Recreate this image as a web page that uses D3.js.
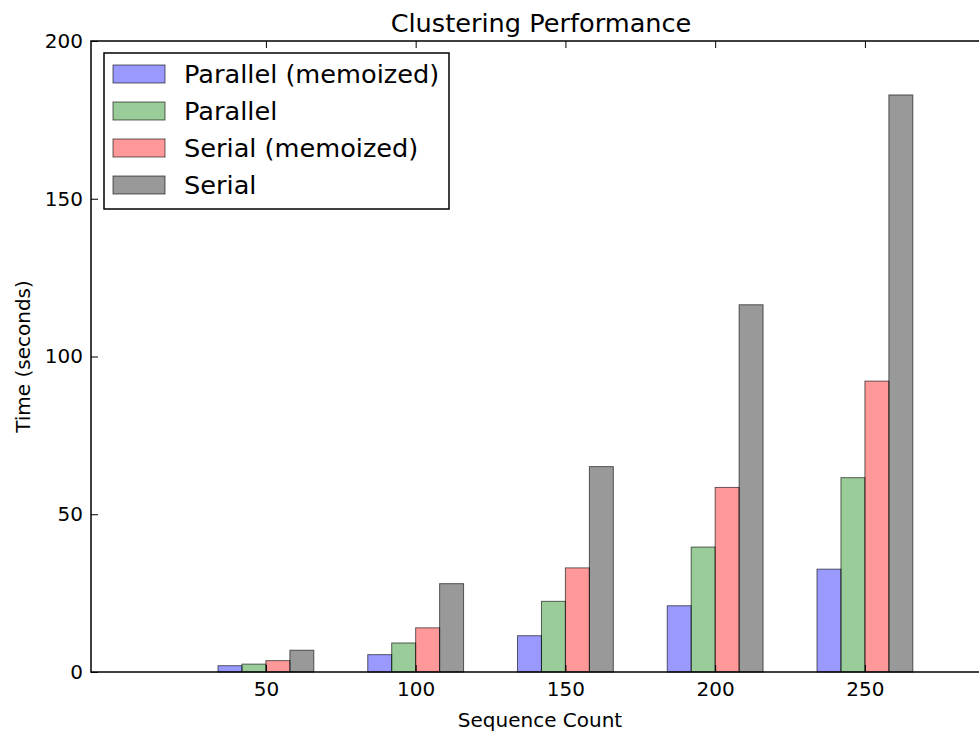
<!DOCTYPE html>
<html>
<head>
<meta charset="utf-8">
<script src="https://cdn.jsdelivr.net/npm/d3@7"></script>
<style>
  body { margin: 0; background: #fff; }
  svg { display: block; font-family: "DejaVu Sans", sans-serif; }
</style>
</head>
<body>
<svg id="chart" width="979" height="735"></svg>
<script>
// Sequence counts (x categories)
const sequenceCounts = [50, 100, 150, 200, 250];

// Series names, in legend order
const seriesNames = ["Parallel (memoized)", "Parallel", "Serial (memoized)", "Serial"];

// Time in seconds per series
const parallelMemoized = [2.0, 5.5, 11.5, 21.0, 32.6];
const parallel = [2.5, 9.2, 22.4, 39.6, 61.6];
const serialMemoized = [3.6, 14.0, 33.0, 58.5, 92.2];
const serial = [6.9, 28.0, 65.1, 116.4, 182.9];

const yTicks = [0, 50, 100, 150, 200];

const seriesValues = [parallelMemoized, parallel, serialMemoized, serial];
const colors = ["#0000ff", "#008000", "#ff0000", "#000000"];

// Layout
const margin = { top: 41, left: 91, bottom: 672, right: 991 };
const barWidth = 8; // in x units

const svg = d3.select("#chart");

// Scales
const x = d3.scaleLinear()
    .domain([-8.4, 292.1])
    .range([margin.left, margin.right]);

const y = d3.scaleLinear()
    .domain([0, 200])
    .range([margin.bottom, margin.top]);

// Bars
seriesValues.forEach((values, i) => {
  svg.append("g")
      .selectAll("rect")
      .data(values.map((v, j) => ({ x: sequenceCounts[j], v })))
      .enter().append("rect")
      .attr("x", d => x(d.x - 2 * barWidth + i * barWidth))
      .attr("y", d => y(d.v))
      .attr("width", d => x(d.x - 2 * barWidth + (i + 1) * barWidth) - x(d.x - 2 * barWidth + i * barWidth))
      .attr("height", d => y(0) - y(d.v))
      .attr("fill", colors[i])
      .attr("fill-opacity", 0.4)
      .attr("stroke", "#000")
      .attr("stroke-opacity", 0.6)
      .attr("stroke-width", 1);
});

// Bottom axis (ticks inward)
const xAxis = svg.append("g")
    .attr("transform", `translate(0,${margin.bottom})`)
    .call(d3.axisBottom(x).tickValues(sequenceCounts).tickSizeInner(-7).tickSizeOuter(0).tickPadding(10));

// Top axis, ticks only
const xAxisTop = svg.append("g")
    .attr("transform", `translate(0,${margin.top})`)
    .call(d3.axisTop(x).tickValues(sequenceCounts).tickSizeInner(-7).tickSizeOuter(0).tickFormat(""));

// Left axis (ticks inward)
const yAxis = svg.append("g")
    .attr("transform", `translate(${margin.left},0)`)
    .call(d3.axisLeft(y).tickValues(yTicks).tickSizeInner(-7).tickSizeOuter(0).tickPadding(8));

[xAxis, xAxisTop, yAxis].forEach(g => {
  g.select(".domain").remove();
  g.selectAll("line").attr("stroke", "#000").attr("stroke-width", 1);
  g.selectAll("text")
      .style("font-size", "20px")
      .style("font-family", "DejaVu Sans, sans-serif")
      .attr("fill", "#000");
});

// Spines
svg.append("rect")
    .attr("x", margin.left)
    .attr("y", margin.top)
    .attr("width", margin.right - margin.left)
    .attr("height", margin.bottom - margin.top)
    .attr("fill", "none")
    .attr("stroke", "#000")
    .attr("stroke-width", 1.5);

// Title
svg.append("text")
    .attr("x", (margin.left + margin.right) / 2)
    .attr("y", 32)
    .attr("text-anchor", "middle")
    .style("font-size", "25.6px")
    .text("Clustering Performance");

// Axis labels
svg.append("text")
    .attr("x", (margin.left + margin.right) / 2 - 1)
    .attr("y", 727)
    .attr("text-anchor", "middle")
    .style("font-size", "20px")
    .text("Sequence Count");

svg.append("text")
    .attr("transform", `translate(30,${(margin.top + margin.bottom) / 2}) rotate(-90)`)
    .attr("text-anchor", "middle")
    .style("font-size", "20px")
    .text("Time (seconds)");

// Legend
const legend = svg.append("g");
legend.append("rect")
    .attr("x", 104)
    .attr("y", 53)
    .attr("width", 345)
    .attr("height", 156)
    .attr("fill", "#fff")
    .attr("stroke", "#000")
    .attr("stroke-width", 1.5);

seriesNames.forEach((name, i) => {
  const cy = 74 + i * 37;
  legend.append("rect")
      .attr("x", 113)
      .attr("y", cy - 9)
      .attr("width", 52)
      .attr("height", 18)
      .attr("fill", colors[i])
      .attr("fill-opacity", 0.4)
      .attr("stroke", "#000")
      .attr("stroke-opacity", 0.6);
  legend.append("text")
      .attr("x", 184)
      .attr("y", cy)
      .attr("dy", "0.35em")
      .style("font-size", "25.6px")
      .text(name);
});
</script>
</body>
</html>
